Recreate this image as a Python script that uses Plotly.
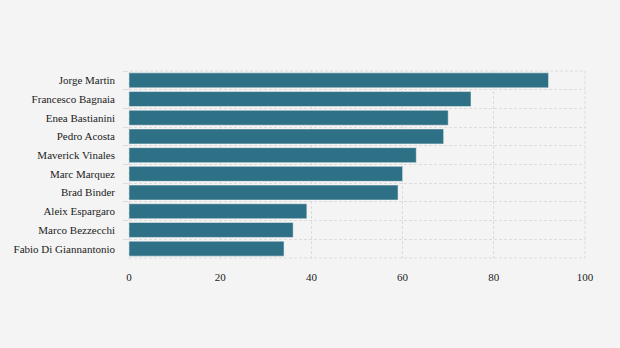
import plotly.graph_objects as go

riders = ["Jorge Martin", "Francesco Bagnaia", "Enea Bastianini", "Pedro Acosta",
          "Maverick Vinales", "Marc Marquez", "Brad Binder", "Aleix Espargaro",
          "Marco Bezzecchi", "Fabio Di Giannantonio"]
values = [92, 75, 70, 69, 63, 60, 59, 39, 36, 34]
x_ticks = [0, 20, 40, 60, 80, 100]

bar_color = "#2e7085"
grid_color = "#dcdcdc"
font = "Liberation Serif"
tickfont = dict(family=font, size=11, color="#222222")

fig = go.Figure(go.Bar(
    x=values, y=riders, orientation="h",
    marker=dict(color=bar_color, line=dict(color="#f5f5f5", width=0.5)),
))

n = len(riders)
fig.update_layout(
    template="none",
    width=620, height=348,
    margin=dict(l=129, r=35, t=71, b=90),
    paper_bgcolor="#f4f4f4", plot_bgcolor="#f4f4f4",
    font=dict(family=font, size=11, color="#222222"),
    bargap=0.2,
    showlegend=False,
    shapes=[dict(type="rect", xref="paper", yref="paper", x0=0, x1=1, y0=0, y1=1,
                 line=dict(color=grid_color, width=1, dash="3px,2px"), layer="below")],
)
fig.update_xaxes(
    range=[0, 100], tickvals=x_ticks, showgrid=True, gridcolor=grid_color,
    griddash="3px,2px", gridwidth=1, zeroline=False, showline=False,
    ticks="", ticklabelstandoff=11, fixedrange=True, tickfont=tickfont,
)
fig.update_yaxes(
    type="category", range=[n - 0.5, -0.5], tickson="boundaries",
    showgrid=True, gridcolor=grid_color, griddash="3px,2px", gridwidth=1,
    ticks="outside", ticklen=5, tickcolor="#dddddd", ticklabelstandoff=13,
    showline=False, zeroline=False, tickfont=tickfont,
)
fig.write_html("out.html")
